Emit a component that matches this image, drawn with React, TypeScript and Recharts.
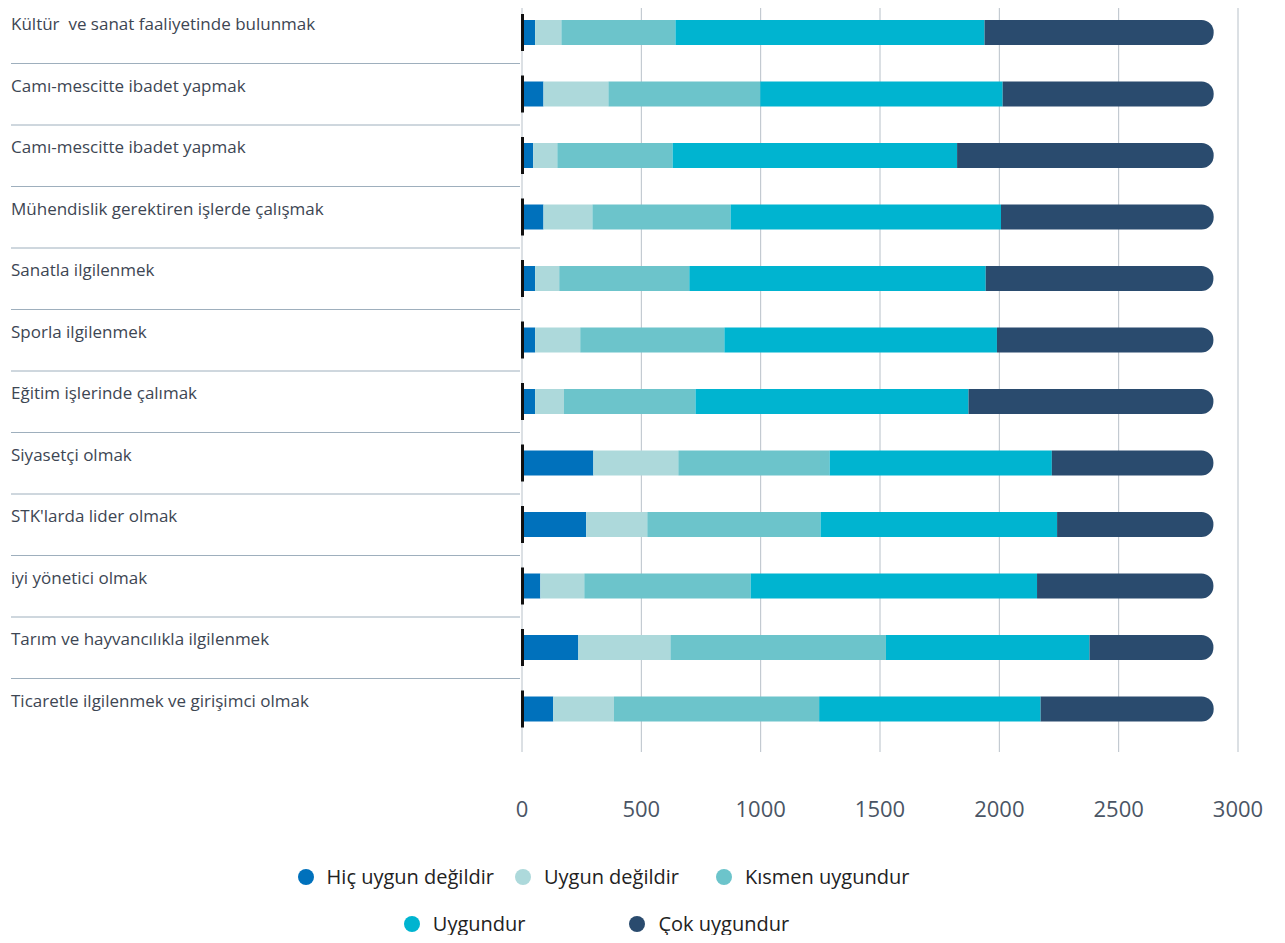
import React from "react";
import { BarChart, Bar, XAxis, YAxis, CartesianGrid, Legend, Rectangle } from "recharts";

const categories = [
  "Kültür  ve sanat faaliyetinde bulunmak",
  "Camı-mescitte ibadet yapmak",
  "Camı-mescitte ibadet yapmak",
  "Mühendislik gerektiren işlerde çalışmak",
  "Sanatla ilgilenmek",
  "Sporla ilgilenmek",
  "Eğitim işlerinde çalımak",
  "Siyasetçi olmak",
  "STK'larda lider olmak",
  "iyi yönetici olmak",
  "Tarım ve hayvancılıkla ilgilenmek",
  "Ticaretle ilgilenmek ve girişimci olmak",
];

const hicUygunDegil = [55, 90, 47, 90, 55, 55, 55, 299, 269, 77, 236, 131];
const uygunDegil = [110, 272, 101, 205, 101, 189, 121, 356, 256, 184, 386, 254];
const kismenUygun = [478, 636, 483, 579, 545, 604, 551, 634, 726, 697, 903, 860];
const uygundur = [1295, 1016, 1192, 1133, 1242, 1142, 1144, 931, 991, 1200, 853, 928];
const cokUygun = [960, 884, 1075, 891, 954, 907, 1026, 677, 655, 739, 519, 725];

const xTicks = [0, 500, 1000, 1500, 2000, 2500, 3000];

const seriesNames = ["Hiç uygun değildir", "Uygun değildir", "Kısmen uygundur", "Uygundur", "Çok uygundur"];
const seriesKeys = ["hic", "ud", "ku", "u", "cu"];
const seriesColors = ["#0071BC", "#ADD9DB", "#6CC4CB", "#00B4D0", "#2A4B6E"];

const data = categories.map((name, i) => ({
  name,
  hic: hicUygunDegil[i],
  ud: uygunDegil[i],
  ku: kismenUygun[i],
  u: uygundur[i],
  cu: cokUygun[i],
}));

const FONT = "'Open Sans', 'Noto Sans', sans-serif";
const TOP = 2;
const PLOT_H = 738;
const BAND = PLOT_H / categories.length;
const GRID = "#b8c1c9";

const YTick = (props: any) => {
  const { y, payload, index } = props;
  return (
    <g>
      <text
        x={11}
        y={y - 9}
        dominantBaseline="central"
        fill="#3d4653"
        fontSize={17}
        fontFamily={FONT}
        style={{ whiteSpace: "pre" }}
      >
        {payload.value}
      </text>
      {index < categories.length - 1 && (
        <line x1={11} x2={520} y1={y + BAND / 2} y2={y + BAND / 2} stroke="#9eafbd" strokeWidth={1} />
      )}
    </g>
  );
};

const XTick = (props: any) => {
  const { x, y, payload } = props;
  return (
    <text
      x={x}
      y={y + 60}
      textAnchor="middle"
      dominantBaseline="central"
      fill="#4a5565"
      fontSize={22}
      fontFamily={FONT}
    >
      {payload.value}
    </text>
  );
};

const GridLine = (p: any) => (
  <line key={p.key} x1={p.x1} x2={p.x2} y1={p.y1 - 2} y2={p.y2 + 12} stroke={GRID} strokeWidth={1} />
);

const FirstBarShape = (props: any) => {
  const { x, y, width, height, fill } = props;
  return (
    <g>
      <Rectangle x={x} y={y} width={width} height={height} fill={fill} />
      <rect x={x - 1} y={y - 6} width={3} height={height + 12} fill="#111" />
    </g>
  );
};

const LegendContent = () => {
  const item = (i: number, gapAfter: number) => (
    <div key={i} style={{ display: "flex", alignItems: "center", marginRight: gapAfter }}>
      <span
        style={{
          width: 16,
          height: 16,
          borderRadius: 8,
          background: seriesColors[i],
          display: "inline-block",
          marginRight: 13,
        }}
      />
      <span style={{ fontSize: 20, color: "#222", fontFamily: FONT }}>{seriesNames[i]}</span>
    </div>
  );
  return (
    <div style={{ height: 95, width: 1285, position: "relative" }}>
      <div
        style={{
          position: "absolute",
          top: 23,
          left: 0,
          width: 1285,
          display: "flex",
          justifyContent: "center",
          paddingRight: 78,
          boxSizing: "border-box",
        }}
      >
        {item(0, 21)}
        {item(1, 37)}
        {item(2, 0)}
      </div>
      <div
        style={{
          position: "absolute",
          top: 70,
          left: 0,
          width: 1285,
          display: "flex",
          justifyContent: "center",
          paddingRight: 92,
          boxSizing: "border-box",
        }}
      >
        {item(3, 104)}
        {item(4, 0)}
      </div>
    </div>
  );
};

export default function App() {
  return (
    <div style={{ margin: -8, width: 1285, height: 943, background: "#fff" }}>
      <BarChart
        width={1285}
        height={943}
        data={data}
        layout="vertical"
        margin={{ top: TOP, right: 47, bottom: 8, left: 0 }}
        barSize={25}
      >
        <CartesianGrid horizontal={false} vertical={GridLine} />
        <XAxis
          type="number"
          domain={[0, 3000]}
          ticks={xTicks}
          axisLine={false}
          tickLine={false}
          height={100}
          tick={<XTick />}
          interval={0}
        />
        <YAxis
          type="category"
          dataKey="name"
          width={522}
          axisLine={false}
          tickLine={false}
          tick={<YTick />}
          interval={0}
        />
        <Legend verticalAlign="bottom" content={<LegendContent />} />
        {seriesKeys.map((k, i) => (
          <Bar
            key={k}
            dataKey={k}
            name={seriesNames[i]}
            stackId="a"
            fill={seriesColors[i]}
            isAnimationActive={false}
            radius={i === seriesKeys.length - 1 ? [0, 12, 12, 0] : 0}
            shape={i === 0 ? <FirstBarShape /> : undefined}
          />
        ))}
      </BarChart>
    </div>
  );
}
